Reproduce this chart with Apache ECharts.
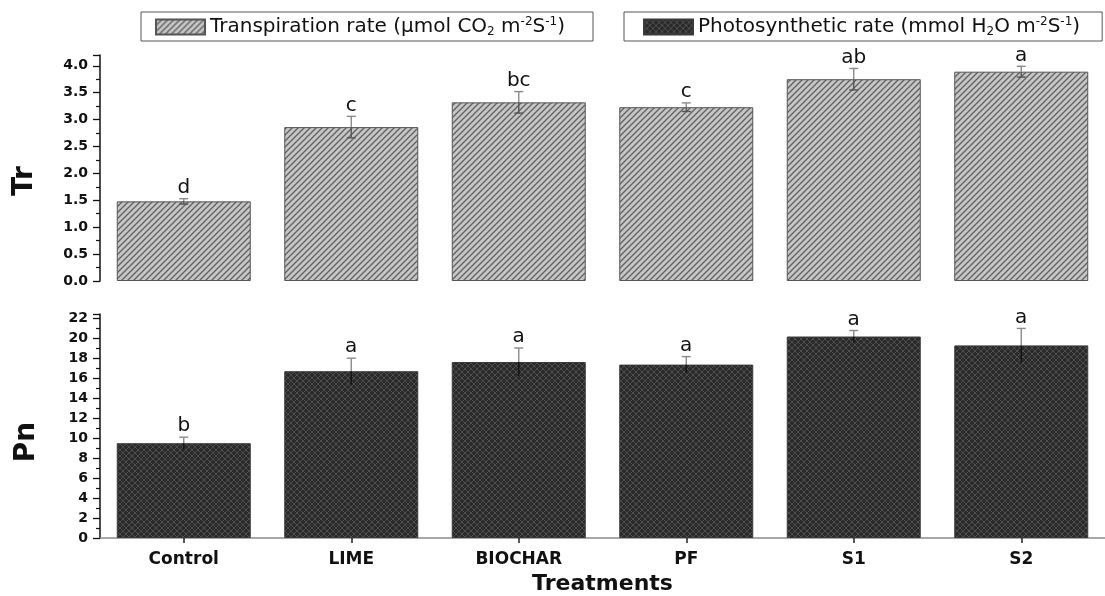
<!DOCTYPE html>
<html><head><meta charset="utf-8">
<script src="https://cdn.jsdelivr.net/npm/echarts@6/dist/echarts.min.js"></script>
<style>html,body{margin:0;padding:0;background:#fff}#c{width:1105px;height:596px}</style>
</head><body><div id="c"></div>
<script>
const categories = ['Control', 'LIME', 'BIOCHAR', 'PF', 'S1', 'S2'];
const trValues = [1.48, 2.86, 3.32, 3.23, 3.75, 3.89];
const trErrors = [0.05, 0.20, 0.20, 0.08, 0.20, 0.10];
const trLetters = ['d', 'c', 'bc', 'c', 'ab', 'a'];
const pnValues = [9.48, 16.68, 17.60, 17.34, 20.15, 19.26];
const pnErrors = [0.60, 1.30, 1.40, 0.80, 0.60, 1.70];
const pnLetters = ['b', 'a', 'a', 'a', 'a', 'a'];

function makeHatch() {
  const c = document.createElement('canvas'); c.width = 6; c.height = 6;
  const g = c.getContext('2d');
  g.fillStyle = '#c6c6c6'; g.fillRect(0, 0, 6, 6);
  g.strokeStyle = '#606060'; g.lineWidth = 1.3;
  g.beginPath();
  g.moveTo(-1, 7); g.lineTo(7, -1);
  g.moveTo(-1, 1); g.lineTo(1, -1);
  g.moveTo(5, 7); g.lineTo(7, 5);
  g.stroke();
  return c;
}
function makeCross() {
  const c = document.createElement('canvas'); c.width = 6; c.height = 6;
  const g = c.getContext('2d');
  g.fillStyle = '#2a2a2a'; g.fillRect(0, 0, 6, 6);
  g.strokeStyle = '#4e4e4e'; g.lineWidth = 1;
  g.beginPath();
  g.moveTo(-1, 7); g.lineTo(7, -1);
  g.moveTo(-1, -1); g.lineTo(7, 7);
  g.moveTo(-1, 1); g.lineTo(1, -1);
  g.moveTo(5, 7); g.lineTo(7, 5);
  g.moveTo(5, -1); g.lineTo(7, 1);
  g.moveTo(-1, 5); g.lineTo(1, 7);
  g.stroke();
  return c;
}
const hatch = { image: makeHatch(), repeat: 'repeat' };
const cross = { image: makeCross(), repeat: 'repeat' };

function errRender(letters, lowerColor, lowerCap) {
  return function (params, api) {
    const i = api.value(0), v = api.value(1), e = api.value(2);
    const top = api.coord([i, v + e]);
    const mid = api.coord([i, v]);
    const bot = api.coord([i, v - e]);
    const x = top[0], hw = 4.5;
    const st = { stroke: '#8a8a8a', lineWidth: 1.4 };
    const children = [
      { type: 'line', shape: { x1: x, y1: top[1], x2: x, y2: mid[1] }, style: st },
      { type: 'line', shape: { x1: x, y1: mid[1], x2: x, y2: bot[1] }, style: { stroke: lowerColor, lineWidth: 1.4 } },
      { type: 'line', shape: { x1: x - hw, y1: top[1], x2: x + hw, y2: top[1] }, style: st },
      { type: 'text', x: x, y: top[1] - 1, style: { text: letters[params.dataIndex], font: '20px "DejaVu Sans"', fill: '#111', align: 'center', verticalAlign: 'bottom' } }
    ];
    if (lowerCap) children.push({ type: 'line', shape: { x1: x - hw, y1: bot[1], x2: x + hw, y2: bot[1] }, style: { stroke: lowerColor, lineWidth: 1.4 } });
    return { type: 'group', children: children };
  };
}

const yLabel = { fontFamily: 'DejaVu Sans', fontWeight: 'bold', fontSize: 14, color: '#111', margin: 12 };
const rich = {
  n: { fontFamily: 'DejaVu Sans', fontSize: 20, lineHeight: 22, color: '#111' },
  sub: { fontFamily: 'DejaVu Sans', fontSize: 12, lineHeight: 11, verticalAlign: 'bottom', color: '#111' },
  sup: { fontFamily: 'DejaVu Sans', fontSize: 12, lineHeight: 11, verticalAlign: 'top', color: '#111' }
};

const chart = echarts.init(document.getElementById('c'));
chart.setOption({
  animation: false,
  backgroundColor: '#fff',
  grid: [
    { left: 100, top: 55, width: 1016, height: 226 },
    { left: 100, top: 314, width: 1016, height: 226 }
  ],
  legend: [
    {
      data: ['Transpiration rate'], left: 141, top: 12, icon: 'rect', itemWidth: 49, itemHeight: 15,
      padding: [4, 28, 3, 14], borderColor: '#555', borderWidth: 1, selectedMode: false,
      formatter: () => '{n|Transpiration rate (μmol CO}{sub|2}{n| m}{sup|-2}{n|S}{sup|-1}{n|)}',
      textStyle: { rich: rich }
    },
    {
      data: ['Photosynthetic rate'], left: 624, top: 12, icon: 'rect', itemWidth: 49, itemHeight: 15,
      padding: [4, 22, 3, 19], borderColor: '#555', borderWidth: 1, selectedMode: false,
      formatter: () => '{n|Photosynthetic rate (mmol H}{sub|2}{n|O m}{sup|-2}{n|S}{sup|-1}{n|)}',
      textStyle: { rich: rich }
    }
  ],
  xAxis: [
    { type: 'category', gridIndex: 0, data: categories, axisLine: { show: false }, axisTick: { show: false }, axisLabel: { show: false } },
    {
      type: 'category', gridIndex: 1, data: categories,
      axisLine: { show: true, lineStyle: { color: '#8a8a8a', width: 1.5 } },
      axisTick: { show: true, alignWithLabel: true, length: 5, lineStyle: { color: '#222', width: 1.5 } },
      axisLabel: { fontFamily: 'DejaVu Sans', fontWeight: 'bold', fontSize: 17, color: '#111', margin: 13 },
      name: 'Treatments', nameLocation: 'middle', nameGap: 35,
      nameTextStyle: { fontFamily: 'DejaVu Sans', fontWeight: 'bold', fontSize: 22, color: '#111' }
    }
  ],
  yAxis: [
    {
      type: 'value', gridIndex: 0, min: 0, max: 4.2, interval: 0.5,
      axisLine: { show: true, lineStyle: { color: '#111', width: 1.5 } },
      axisTick: { show: true, inside: false, length: 7, lineStyle: { color: '#111', width: 1.3 } },
      minorTick: { show: true, splitNumber: 2, length: 4, lineStyle: { color: '#111', width: 1.2 } },
      splitLine: { show: false },
      axisLabel: Object.assign({}, yLabel, { formatter: v => (Math.abs(v * 2 - Math.round(v * 2)) < 1e-6 ? v.toFixed(1) : '') })
    },
    {
      type: 'value', gridIndex: 1, min: 0, max: 22.4, interval: 2,
      axisLine: { show: true, lineStyle: { color: '#111', width: 1.5 } },
      axisTick: { show: true, inside: false, length: 7, lineStyle: { color: '#111', width: 1.3 } },
      minorTick: { show: true, splitNumber: 2, length: 4, lineStyle: { color: '#111', width: 1.2 } },
      splitLine: { show: false },
      axisLabel: Object.assign({}, yLabel, { formatter: v => (v % 2 === 0 ? String(v) : '') })
    }
  ],
  graphic: [
    { type: 'text', x: 25, y: 181, rotation: Math.PI / 2, style: { text: 'Tr', font: 'bold 28px "DejaVu Sans"', fill: '#111', align: 'center', verticalAlign: 'middle' } },
    { type: 'text', x: 27, y: 442, rotation: Math.PI / 2, style: { text: 'Pn', font: 'bold 28px "DejaVu Sans"', fill: '#111', align: 'center', verticalAlign: 'middle' } }
  ],
  series: [
    {
      name: 'Transpiration rate', type: 'bar', xAxisIndex: 0, yAxisIndex: 0, data: trValues, barWidth: '80%',
      itemStyle: { color: hatch, borderColor: '#555', borderWidth: 1 }
    },
    {
      name: 'Photosynthetic rate', type: 'bar', xAxisIndex: 1, yAxisIndex: 1, data: pnValues, barWidth: '80%',
      itemStyle: { color: cross, borderColor: '#3a3a3a', borderWidth: 1 }
    },
    {
      type: 'custom', xAxisIndex: 0, yAxisIndex: 0, z: 5,
      data: categories.map((c, i) => [i, trValues[i], trErrors[i]]),
      renderItem: errRender(trLetters, '#555', true)
    },
    {
      type: 'custom', xAxisIndex: 1, yAxisIndex: 1, z: 5,
      data: categories.map((c, i) => [i, pnValues[i], pnErrors[i]]),
      renderItem: errRender(pnLetters, '#111', false)
    }
  ]
});
</script></body></html>
